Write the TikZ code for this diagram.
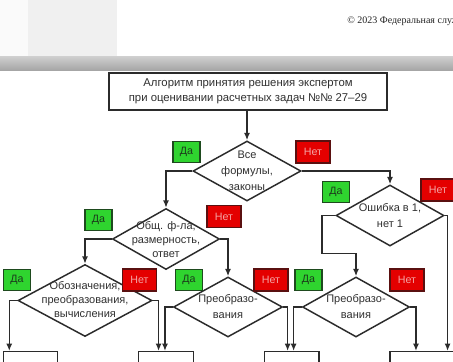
\documentclass[tikz,border=0pt]{standalone}
\usepackage{fontspec}
\setmainfont{Liberation Sans}
\newfontfamily\headserif{Liberation Serif}
\usetikzlibrary{shapes.geometric,arrows.meta,calc}

\definecolor{linec}{HTML}{2B2B2B}
\definecolor{txtc}{HTML}{303030}
\definecolor{sidegray}{HTML}{F0F0F0}
\definecolor{edgegray}{HTML}{FAFAFA}
\definecolor{bandtop}{HTML}{D0D0D0}
\definecolor{bandbot}{HTML}{A6A6A6}
\definecolor{hdrtext}{HTML}{222222}
\definecolor{yesfill}{HTML}{2FD42F}
\definecolor{yesedge}{HTML}{1E4A1E}
\definecolor{yestext}{HTML}{1C3A1C}
\definecolor{nofill}{HTML}{E40000}
\definecolor{noedge}{HTML}{5A1010}
\definecolor{notext}{HTML}{F4A4A4}

\tikzset{
  ln/.style={draw=linec, line width=1.1pt},
  conn/.style={ln, -{Latex[length=5.5pt,width=4.5pt]}},
  dia/.style={shape=diamond, ln, inner sep=0pt, fill=white},
  dtext/.style={font=\fontsize{8.25}{12}\selectfont, align=center, text=txtc, inner sep=0pt},
  dtextsm/.style={dtext, font=\fontsize{8.25}{10.5}\selectfont},
  titlebox/.style={rectangle, ln, fill=white, align=center, text=txtc,
    minimum width=278*0.75pt, minimum height=37*0.75pt,
    font=\fontsize{8.5}{11.25}\selectfont},
  endbox/.style={rectangle, ln, fill=white, minimum height=30*0.75pt},
  dabox/.style={rectangle, draw=yesedge, line width=0.8pt, fill=yesfill,
    minimum width=27*0.75pt, minimum height=21*0.75pt, inner sep=0pt,
    text=yestext, font=\fontsize{8}{9}\selectfont},
  netbox/.style={rectangle, draw=noedge, line width=0.8pt, fill=nofill,
    minimum width=34*0.75pt, minimum height=22*0.75pt, inner sep=0pt,
    text=notext, font=\fontsize{8}{9}\selectfont},
}

\begin{document}
\begin{tikzpicture}[x=0.75pt,y=-0.75pt]
\useasboundingbox (0,0) rectangle (453,361);
\clip (0,0) rectangle (453,361);
\fill[white] (0,0) rectangle (453,361);

% page header strip with its shadow band
\fill[edgegray] (0,0) rectangle (28,58);
\fill[sidegray] (28,0) rectangle (117,58);
\shade[top color=bandtop, bottom color=bandbot] (0,56) rectangle (453,70);
\node[anchor=base west, inner sep=0pt, text=hdrtext,
      font=\headserif\fontsize{7.5}{9}\selectfont] (copy) at (347,23.5)
      {© 2023 Федеральная служба};

% title
\node[titlebox] (title) at (248,91.5)
  {Алгоритм принятия решения экспертом\\при оценивании расчетных задач №№ 27–29};

% decision diamonds
\node[dia, minimum width=108*0.75pt, minimum height=60*0.75pt] (d1) at (247,171) {};
\node[dia, minimum width=107*0.75pt, minimum height=61*0.75pt] (d2) at (166,239) {};
\node[dia, minimum width=134*0.75pt, minimum height=72*0.75pt] (d3) at (85,300.5) {};
\node[dia, minimum width=109*0.75pt, minimum height=60*0.75pt] (d4) at (228,307) {};
\node[dia, minimum width=108*0.75pt, minimum height=61*0.75pt] (d5) at (390,215.5) {};
\node[dia, minimum width=107*0.75pt, minimum height=60*0.75pt] (d6) at (356,307) {};

\node[dtext]   (t1) at (247,171)   {Все\\формулы,\\законы};
\node[dtextsm] (t2) at (166,239.5) {Общ. ф-ла,\\размерность,\\ответ};
\node[dtextsm] (t3) at (85,299.5)  {Обозначения,\\преобразования,\\вычисления};
\node[dtext]   (t4) at (228,307)   {Преобразо-\\вания};
\node[dtext]   (t5) at (390,216)   {Ошибка в 1,\\нет 1};
\node[dtext]   (t6) at (356,307)   {Преобразо-\\вания};

% result boxes along the bottom
\node[endbox, minimum width=54.4*0.75pt] (ea) at (30.5,366.7) {};
\node[endbox, minimum width=55*0.75pt]   (eb) at (165.8,366.7) {};
\node[endbox, minimum width=54.7*0.75pt] (ec) at (291.7,366.7) {};
\node[endbox, minimum width=70*0.75pt]   (ed) at (425,366.7) {};

% connectors
\draw[conn] (title.south -| d1.north) -- (d1.north);
\draw[conn] (d1.west) -| (d2.north);
\draw[conn] (d1.east) -| (d5.north);
\draw[conn] (d2.west) -| (d3.north);
\draw[conn] (d2.east) -| (d4.north);
\draw[conn] (d3.west) -| ($(ea.north west)+(6.7,0)$);
\draw[conn] (d3.east) -| ($(eb.north west)+(21,0)$);
\draw[conn] (d4.west) -| ($(eb.north west)+(27.4,0)$);
\draw[conn] (d4.east) -| ($(ec.north west)+(24,0)$);
\draw[conn] (d5.west) -- ++(-13.4,0) |- ($(d6.north)+(0,-23)$) -- (d6.north);
\draw[conn] (d5.east) -| ($(ed.north west)+(58.3,0)$);
\draw[conn] (d6.west) -| ($(ec.north west)+(30,0)$);
\draw[conn] (d6.east) -| ($(ed.north west)+(26.7,0)$);

% yes / no labels
\node[dabox]  (y1) at (186.5,152) {Да};
\node[netbox] (n1) at (313,152)   {Нет};
\node[dabox]  (y2) at (98.5,220)  {Да};
\node[netbox] (n2) at (224,216.5) {Нет};
\node[dabox]  (y3) at (17,280)    {Да};
\node[netbox] (n3) at (139.5,280) {Нет};
\node[dabox]  (y4) at (189,280)   {Да};
\node[netbox] (n4) at (271,280)   {Нет};
\node[dabox]  (y5) at (336,192)   {Да};
\node[netbox] (n5) at (438,190)   {Нет};
\node[dabox]  (y6) at (308.5,280) {Да};
\node[netbox] (n6) at (407,280)   {Нет};
\end{tikzpicture}
\end{document}
